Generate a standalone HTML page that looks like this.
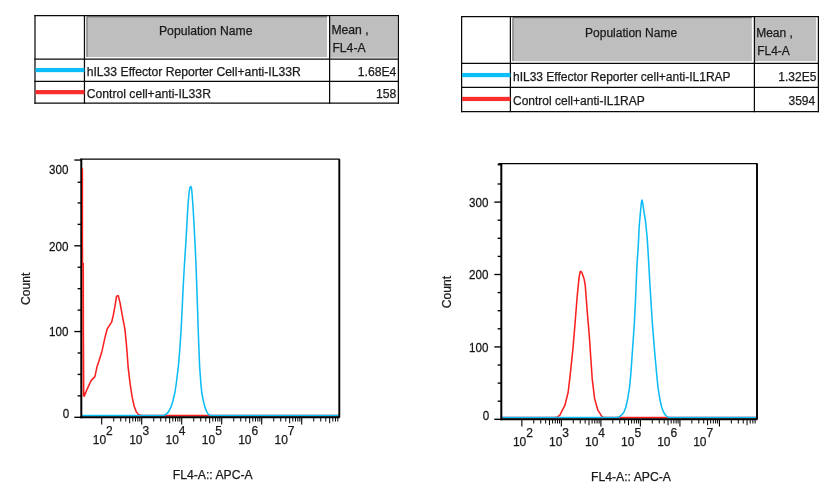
<!DOCTYPE html>
<html><head><meta charset="utf-8"><title>Histograms</title>
<style>html,body{margin:0;padding:0;background:#fff;overflow:hidden}svg{display:block}</style></head>
<body>
<svg width="832" height="500" viewBox="0 0 832 500">
<rect width="832" height="500" fill="#fff"/>
<rect x="86.65" y="16.599999999999998" width="240.45000000000005" height="40.45" fill="#bebebe"/>
<path d="M86.95,56.85 V16.80 H327.00" fill="none" stroke="#4a4a4a" stroke-width="0.8"/>
<path d="M330.70,57.35 V16.70" fill="none" stroke="#666" stroke-width="0.6"/>
<rect x="330.5" y="16.599999999999998" width="66.99999999999996" height="41.050000000000004" fill="#bebebe"/>
<line x1="35" y1="15.1" x2="35" y2="103.8" stroke="#080808" stroke-width="1.25"/>
<line x1="84.45" y1="15.1" x2="84.45" y2="103.8" stroke="#080808" stroke-width="1.25"/>
<line x1="329.6" y1="15.1" x2="329.6" y2="103.8" stroke="#080808" stroke-width="1.25"/>
<line x1="398.4" y1="15.1" x2="398.4" y2="103.8" stroke="#080808" stroke-width="1.25"/>
<line x1="34.4" y1="15.7" x2="399.0" y2="15.7" stroke="#080808" stroke-width="1.3"/>
<line x1="34.4" y1="59.15" x2="399.0" y2="59.15" stroke="#080808" stroke-width="1.3"/>
<line x1="34.4" y1="81.35" x2="399.0" y2="81.35" stroke="#080808" stroke-width="1.3"/>
<line x1="34.4" y1="103.2" x2="399.0" y2="103.2" stroke="#080808" stroke-width="1.3"/>
<rect x="35.5" y="67.95" width="48.95" height="4.2" fill="#0bbdf8"/>
<rect x="35.5" y="90.05" width="48.95" height="4.2" fill="#fb2d2d"/>
<text x="205.725" y="34.5" text-anchor="middle" font-family="Liberation Sans, Arial, sans-serif" stroke="#1a1a1a" stroke-width="0.25" font-size="12.2" fill="#1a1a1a">Population Name</text>
<text x="331.40000000000003" y="34.099999999999994" font-family="Liberation Sans, Arial, sans-serif" stroke="#1a1a1a" stroke-width="0.25" font-size="12.2" fill="#1a1a1a">Mean ,</text>
<text x="332.40000000000003" y="52.3" font-family="Liberation Sans, Arial, sans-serif" stroke="#1a1a1a" stroke-width="0.25" font-size="12.2" fill="#1a1a1a">FL4-A</text>
<text x="86.65" y="75.85" font-family="Liberation Sans, Arial, sans-serif" stroke="#1a1a1a" stroke-width="0.25" font-size="12.2" fill="#1a1a1a">hIL33 Effector Reporter Cell+anti-IL33R</text>
<text x="86.65" y="97.85" font-family="Liberation Sans, Arial, sans-serif" stroke="#1a1a1a" stroke-width="0.25" font-size="12.2" fill="#1a1a1a">Control cell+anti-IL33R</text>
<text x="396.4" y="75.85" text-anchor="end" font-family="Liberation Sans, Arial, sans-serif" stroke="#1a1a1a" stroke-width="0.25" font-size="12.2" fill="#1a1a1a">1.68E4</text>
<text x="396.4" y="97.85" text-anchor="end" font-family="Liberation Sans, Arial, sans-serif" stroke="#1a1a1a" stroke-width="0.25" font-size="12.2" fill="#1a1a1a">158</text>
<rect x="512.6" y="17.5" width="239.3" height="43.75" fill="#bebebe"/>
<path d="M512.90,61.05 V17.70 H751.80" fill="none" stroke="#4a4a4a" stroke-width="0.8"/>
<path d="M755.50,61.55 V17.60" fill="none" stroke="#666" stroke-width="0.6"/>
<rect x="755.3" y="17.5" width="60.900000000000006" height="43.65" fill="#bebebe"/>
<line x1="461.6" y1="16.0" x2="461.6" y2="112.19999999999999" stroke="#080808" stroke-width="1.25"/>
<line x1="510.4" y1="16.0" x2="510.4" y2="112.19999999999999" stroke="#080808" stroke-width="1.25"/>
<line x1="754.4" y1="16.0" x2="754.4" y2="112.19999999999999" stroke="#080808" stroke-width="1.25"/>
<line x1="818.4" y1="16.0" x2="818.4" y2="112.19999999999999" stroke="#080808" stroke-width="1.25"/>
<line x1="461.0" y1="16.6" x2="819.0" y2="16.6" stroke="#080808" stroke-width="1.3"/>
<line x1="461.0" y1="63.35" x2="819.0" y2="63.35" stroke="#080808" stroke-width="1.3"/>
<line x1="461.0" y1="87.35" x2="819.0" y2="87.35" stroke="#080808" stroke-width="1.3"/>
<line x1="461.0" y1="111.6" x2="819.0" y2="111.6" stroke="#080808" stroke-width="1.3"/>
<rect x="462.1" y="72.95" width="48.299999999999955" height="4.2" fill="#0bbdf8"/>
<rect x="462.1" y="96.85" width="48.299999999999955" height="4.2" fill="#fb2d2d"/>
<text x="631.1" y="36.900000000000006" text-anchor="middle" font-family="Liberation Sans, Arial, sans-serif" stroke="#1a1a1a" stroke-width="0.25" font-size="12.0" fill="#1a1a1a">Population Name</text>
<text x="756.1999999999999" y="36.6" font-family="Liberation Sans, Arial, sans-serif" stroke="#1a1a1a" stroke-width="0.25" font-size="12.0" fill="#1a1a1a">Mean ,</text>
<text x="757.1999999999999" y="55.1" font-family="Liberation Sans, Arial, sans-serif" stroke="#1a1a1a" stroke-width="0.25" font-size="12.0" fill="#1a1a1a">FL4-A</text>
<text x="513.0" y="81.25" font-family="Liberation Sans, Arial, sans-serif" stroke="#1a1a1a" stroke-width="0.25" font-size="12.0" fill="#1a1a1a">hIL33 Effector Reporter cell+anti-IL1RAP</text>
<text x="513.0" y="105.44999999999999" font-family="Liberation Sans, Arial, sans-serif" stroke="#1a1a1a" stroke-width="0.25" font-size="12.0" fill="#1a1a1a">Control cell+anti-IL1RAP</text>
<text x="816.4" y="81.25" text-anchor="end" font-family="Liberation Sans, Arial, sans-serif" stroke="#1a1a1a" stroke-width="0.25" font-size="12.0" fill="#1a1a1a">1.32E5</text>
<text x="815.1999999999999" y="105.44999999999999" text-anchor="end" font-family="Liberation Sans, Arial, sans-serif" stroke="#1a1a1a" stroke-width="0.25" font-size="12.0" fill="#1a1a1a">3594</text>
<polyline points="83.70,392.00 84.10,396.50 86.50,390.60 90.00,382.90 91.40,380.10 94.90,376.60 97.00,366.80 99.10,360.50 101.90,351.40 105.30,336.20 107.10,329.20 111.60,322.20 113.30,315.20 115.10,305.40 116.50,296.30 118.30,295.60 120.00,302.60 122.50,316.60 124.90,329.20 126.30,343.20 127.50,358.00 128.10,366.80 129.90,382.20 132.00,396.20 134.10,406.00 136.20,411.60 138.30,414.40 141.50,415.60 339.00,415.60" fill="none" stroke="#fa2020" stroke-width="1.55" stroke-linejoin="round"/>
<polyline points="82.00,415.60 163.00,415.60 165.80,414.60 168.50,411.90 170.80,407.40 172.60,402.00 174.80,393.00 176.20,384.00 178.40,366.00 179.90,348.00 181.10,330.00 182.10,310.00 183.00,290.00 184.40,265.00 185.60,247.00 186.80,226.00 187.80,208.00 188.90,194.00 189.80,188.00 190.70,186.30 191.50,188.00 192.10,194.00 193.10,208.00 194.10,226.00 195.20,247.00 196.00,265.00 196.90,290.00 197.60,310.00 198.20,330.00 198.90,348.00 199.60,366.00 200.90,384.00 201.80,393.00 203.60,402.00 205.00,407.40 206.80,411.90 208.60,414.60 211.00,415.60 339.00,415.60" fill="none" stroke="#0cbcf6" stroke-width="1.55" stroke-linejoin="round"/>
<line x1="81.3" y1="158.65" x2="81.3" y2="418.2" stroke="#000" stroke-width="2"/>
<line x1="80.3" y1="417.2" x2="339.8" y2="417.2" stroke="#000" stroke-width="2"/>
<line x1="80.3" y1="159.15" x2="339.8" y2="159.15" stroke="#000" stroke-width="1.4"/>
<line x1="339.3" y1="159.15" x2="339.3" y2="417.2" stroke="#000" stroke-width="1.9"/>
<polyline points="82.50,168.20 82.60,266.00" fill="none" stroke="#fa2020" stroke-width="1.3" stroke-linejoin="round"/>
<polyline points="83.15,263.00 83.25,330.00 83.60,396.00" fill="none" stroke="#fa2020" stroke-width="1.8" stroke-linejoin="round"/>
<line x1="74.3" y1="417.3" x2="81.3" y2="417.3" stroke="#000" stroke-width="1.35"/>
<text transform="translate(69.30,418.20) scale(0.945,1.06)" text-anchor="end" font-family="Liberation Sans, Arial, sans-serif" stroke="#1a1a1a" stroke-width="0.25" font-size="12.3" fill="#111">0</text>
<line x1="77.6" y1="395.8625" x2="81.3" y2="395.8625" stroke="#000" stroke-width="1.35"/>
<line x1="77.6" y1="374.425" x2="81.3" y2="374.425" stroke="#000" stroke-width="1.35"/>
<line x1="77.6" y1="352.9875" x2="81.3" y2="352.9875" stroke="#000" stroke-width="1.35"/>
<line x1="74.3" y1="331.55" x2="81.3" y2="331.55" stroke="#000" stroke-width="1.35"/>
<text transform="translate(68.40,336.45) scale(0.945,1.06)" text-anchor="end" font-family="Liberation Sans, Arial, sans-serif" stroke="#1a1a1a" stroke-width="0.25" font-size="12.3" fill="#111">100</text>
<line x1="77.6" y1="310.1125" x2="81.3" y2="310.1125" stroke="#000" stroke-width="1.35"/>
<line x1="77.6" y1="288.675" x2="81.3" y2="288.675" stroke="#000" stroke-width="1.35"/>
<line x1="77.6" y1="267.2375" x2="81.3" y2="267.2375" stroke="#000" stroke-width="1.35"/>
<line x1="74.3" y1="245.8" x2="81.3" y2="245.8" stroke="#000" stroke-width="1.35"/>
<text transform="translate(68.40,250.70) scale(0.945,1.06)" text-anchor="end" font-family="Liberation Sans, Arial, sans-serif" stroke="#1a1a1a" stroke-width="0.25" font-size="12.3" fill="#111">200</text>
<line x1="77.6" y1="224.3625" x2="81.3" y2="224.3625" stroke="#000" stroke-width="1.35"/>
<line x1="77.6" y1="202.925" x2="81.3" y2="202.925" stroke="#000" stroke-width="1.35"/>
<line x1="77.6" y1="182.25925" x2="81.3" y2="182.25925" stroke="#000" stroke-width="1.35"/>
<line x1="74.3" y1="160.05" x2="81.3" y2="160.05" stroke="#000" stroke-width="1.35"/>
<text transform="translate(68.40,173.95) scale(0.945,1.06)" text-anchor="end" font-family="Liberation Sans, Arial, sans-serif" stroke="#1a1a1a" stroke-width="0.25" font-size="12.3" fill="#111">300</text>
<line x1="101.7" y1="417.2" x2="101.7" y2="424.59999999999997" stroke="#000" stroke-width="1.1"/>
<line x1="113.74" y1="417.2" x2="113.74" y2="421.5" stroke="#000" stroke-width="1.0"/>
<line x1="120.78" y1="417.2" x2="120.78" y2="421.5" stroke="#000" stroke-width="1.0"/>
<line x1="125.78" y1="417.2" x2="125.78" y2="421.5" stroke="#000" stroke-width="1.0"/>
<line x1="129.66" y1="417.2" x2="129.66" y2="423.2" stroke="#000" stroke-width="1.0"/>
<line x1="132.83" y1="417.2" x2="132.83" y2="421.5" stroke="#000" stroke-width="1.0"/>
<line x1="135.50" y1="417.2" x2="135.50" y2="421.5" stroke="#000" stroke-width="1.0"/>
<line x1="137.82" y1="417.2" x2="137.82" y2="421.5" stroke="#000" stroke-width="1.0"/>
<line x1="139.87" y1="417.2" x2="139.87" y2="421.5" stroke="#000" stroke-width="1.0"/>
<text x="92.80" y="444.09999999999997" font-family="Liberation Sans, Arial, sans-serif" stroke="#1a1a1a" stroke-width="0.25" font-size="12" fill="#1a1a1a">10</text>
<text x="106.10" y="434.8" font-family="Liberation Sans, Arial, sans-serif" stroke="#1a1a1a" stroke-width="0.25" font-size="12" fill="#1a1a1a">2</text>
<line x1="141.7" y1="417.2" x2="141.7" y2="424.59999999999997" stroke="#000" stroke-width="1.1"/>
<line x1="153.74" y1="417.2" x2="153.74" y2="421.5" stroke="#000" stroke-width="1.0"/>
<line x1="160.78" y1="417.2" x2="160.78" y2="421.5" stroke="#000" stroke-width="1.0"/>
<line x1="165.78" y1="417.2" x2="165.78" y2="421.5" stroke="#000" stroke-width="1.0"/>
<line x1="169.66" y1="417.2" x2="169.66" y2="423.2" stroke="#000" stroke-width="1.0"/>
<line x1="172.83" y1="417.2" x2="172.83" y2="421.5" stroke="#000" stroke-width="1.0"/>
<line x1="175.50" y1="417.2" x2="175.50" y2="421.5" stroke="#000" stroke-width="1.0"/>
<line x1="177.82" y1="417.2" x2="177.82" y2="421.5" stroke="#000" stroke-width="1.0"/>
<line x1="179.87" y1="417.2" x2="179.87" y2="421.5" stroke="#000" stroke-width="1.0"/>
<text x="129.15" y="444.09999999999997" font-family="Liberation Sans, Arial, sans-serif" stroke="#1a1a1a" stroke-width="0.25" font-size="12" fill="#1a1a1a">10</text>
<text x="142.45" y="434.8" font-family="Liberation Sans, Arial, sans-serif" stroke="#1a1a1a" stroke-width="0.25" font-size="12" fill="#1a1a1a">3</text>
<line x1="181.7" y1="417.2" x2="181.7" y2="424.59999999999997" stroke="#000" stroke-width="1.1"/>
<line x1="193.74" y1="417.2" x2="193.74" y2="421.5" stroke="#000" stroke-width="1.0"/>
<line x1="200.78" y1="417.2" x2="200.78" y2="421.5" stroke="#000" stroke-width="1.0"/>
<line x1="205.78" y1="417.2" x2="205.78" y2="421.5" stroke="#000" stroke-width="1.0"/>
<line x1="209.66" y1="417.2" x2="209.66" y2="423.2" stroke="#000" stroke-width="1.0"/>
<line x1="212.83" y1="417.2" x2="212.83" y2="421.5" stroke="#000" stroke-width="1.0"/>
<line x1="215.50" y1="417.2" x2="215.50" y2="421.5" stroke="#000" stroke-width="1.0"/>
<line x1="217.82" y1="417.2" x2="217.82" y2="421.5" stroke="#000" stroke-width="1.0"/>
<line x1="219.87" y1="417.2" x2="219.87" y2="421.5" stroke="#000" stroke-width="1.0"/>
<text x="165.50" y="444.09999999999997" font-family="Liberation Sans, Arial, sans-serif" stroke="#1a1a1a" stroke-width="0.25" font-size="12" fill="#1a1a1a">10</text>
<text x="178.80" y="434.8" font-family="Liberation Sans, Arial, sans-serif" stroke="#1a1a1a" stroke-width="0.25" font-size="12" fill="#1a1a1a">4</text>
<line x1="221.7" y1="417.2" x2="221.7" y2="424.59999999999997" stroke="#000" stroke-width="1.1"/>
<line x1="233.74" y1="417.2" x2="233.74" y2="421.5" stroke="#000" stroke-width="1.0"/>
<line x1="240.78" y1="417.2" x2="240.78" y2="421.5" stroke="#000" stroke-width="1.0"/>
<line x1="245.78" y1="417.2" x2="245.78" y2="421.5" stroke="#000" stroke-width="1.0"/>
<line x1="249.66" y1="417.2" x2="249.66" y2="423.2" stroke="#000" stroke-width="1.0"/>
<line x1="252.83" y1="417.2" x2="252.83" y2="421.5" stroke="#000" stroke-width="1.0"/>
<line x1="255.50" y1="417.2" x2="255.50" y2="421.5" stroke="#000" stroke-width="1.0"/>
<line x1="257.82" y1="417.2" x2="257.82" y2="421.5" stroke="#000" stroke-width="1.0"/>
<line x1="259.87" y1="417.2" x2="259.87" y2="421.5" stroke="#000" stroke-width="1.0"/>
<text x="201.85" y="444.09999999999997" font-family="Liberation Sans, Arial, sans-serif" stroke="#1a1a1a" stroke-width="0.25" font-size="12" fill="#1a1a1a">10</text>
<text x="215.15" y="434.8" font-family="Liberation Sans, Arial, sans-serif" stroke="#1a1a1a" stroke-width="0.25" font-size="12" fill="#1a1a1a">5</text>
<line x1="261.7" y1="417.2" x2="261.7" y2="424.59999999999997" stroke="#000" stroke-width="1.1"/>
<line x1="273.74" y1="417.2" x2="273.74" y2="421.5" stroke="#000" stroke-width="1.0"/>
<line x1="280.78" y1="417.2" x2="280.78" y2="421.5" stroke="#000" stroke-width="1.0"/>
<line x1="285.78" y1="417.2" x2="285.78" y2="421.5" stroke="#000" stroke-width="1.0"/>
<line x1="289.66" y1="417.2" x2="289.66" y2="423.2" stroke="#000" stroke-width="1.0"/>
<line x1="292.83" y1="417.2" x2="292.83" y2="421.5" stroke="#000" stroke-width="1.0"/>
<line x1="295.50" y1="417.2" x2="295.50" y2="421.5" stroke="#000" stroke-width="1.0"/>
<line x1="297.82" y1="417.2" x2="297.82" y2="421.5" stroke="#000" stroke-width="1.0"/>
<line x1="299.87" y1="417.2" x2="299.87" y2="421.5" stroke="#000" stroke-width="1.0"/>
<text x="238.20" y="444.09999999999997" font-family="Liberation Sans, Arial, sans-serif" stroke="#1a1a1a" stroke-width="0.25" font-size="12" fill="#1a1a1a">10</text>
<text x="251.50" y="434.8" font-family="Liberation Sans, Arial, sans-serif" stroke="#1a1a1a" stroke-width="0.25" font-size="12" fill="#1a1a1a">6</text>
<line x1="301.7" y1="417.2" x2="301.7" y2="424.59999999999997" stroke="#000" stroke-width="1.1"/>
<line x1="313.74" y1="417.2" x2="313.74" y2="421.5" stroke="#000" stroke-width="1.0"/>
<line x1="320.78" y1="417.2" x2="320.78" y2="421.5" stroke="#000" stroke-width="1.0"/>
<line x1="325.78" y1="417.2" x2="325.78" y2="421.5" stroke="#000" stroke-width="1.0"/>
<line x1="329.66" y1="417.2" x2="329.66" y2="423.2" stroke="#000" stroke-width="1.0"/>
<line x1="332.83" y1="417.2" x2="332.83" y2="421.5" stroke="#000" stroke-width="1.0"/>
<line x1="335.50" y1="417.2" x2="335.50" y2="421.5" stroke="#000" stroke-width="1.0"/>
<line x1="337.82" y1="417.2" x2="337.82" y2="421.5" stroke="#000" stroke-width="1.0"/>
<text x="274.55" y="444.09999999999997" font-family="Liberation Sans, Arial, sans-serif" stroke="#1a1a1a" stroke-width="0.25" font-size="12" fill="#1a1a1a">10</text>
<text x="287.85" y="434.8" font-family="Liberation Sans, Arial, sans-serif" stroke="#1a1a1a" stroke-width="0.25" font-size="12" fill="#1a1a1a">7</text>
<text x="212.7" y="479.0" text-anchor="middle" font-family="Liberation Sans, Arial, sans-serif" stroke="#1a1a1a" stroke-width="0.25" font-size="12.2" fill="#1a1a1a">FL4-A:: APC-A</text>
<text transform="translate(30.1,288.8) rotate(-90)" text-anchor="middle" font-family="Liberation Sans, Arial, sans-serif" stroke="#1a1a1a" stroke-width="0.25" font-size="12.1" fill="#1a1a1a">Count</text>
<polyline points="502.00,417.60 554.50,417.60 557.50,416.90 559.90,415.10 564.90,405.20 568.20,392.00 570.50,372.20 572.90,349.10 575.10,322.70 577.20,296.30 579.00,278.20 580.20,271.60 581.00,271.40 582.20,273.40 583.90,278.20 585.20,285.00 586.20,298.00 587.20,311.20 588.40,325.00 589.60,340.00 590.40,352.40 592.20,378.80 594.60,398.60 597.90,410.20 602.10,416.80 604.00,417.60 756.50,417.60" fill="none" stroke="#fa2020" stroke-width="1.55" stroke-linejoin="round"/>
<polyline points="502.00,417.60 616.50,417.60 618.75,417.00 621.25,415.50 623.75,412.50 625.75,407.50 627.50,400.00 629.50,387.50 630.75,375.00 632.50,350.00 634.25,325.00 635.50,300.00 636.90,266.70 638.30,245.10 639.20,226.00 640.70,209.20 641.40,202.50 641.90,200.10 642.60,202.00 643.60,209.20 645.50,221.20 647.20,238.00 648.40,257.10 649.60,278.70 650.80,299.00 652.50,325.00 654.50,350.00 656.75,375.00 658.00,387.50 660.00,400.00 661.75,407.50 663.75,412.50 665.75,415.50 667.50,417.00 670.00,417.60 756.50,417.60" fill="none" stroke="#0cbcf6" stroke-width="1.55" stroke-linejoin="round"/>
<line x1="501.3" y1="163.1" x2="501.3" y2="420.2" stroke="#000" stroke-width="2"/>
<line x1="500.3" y1="419.2" x2="757.5" y2="419.2" stroke="#000" stroke-width="2"/>
<line x1="498.3" y1="163.6" x2="757.5" y2="163.6" stroke="#000" stroke-width="1.4"/>
<line x1="757.0" y1="163.6" x2="757.0" y2="419.2" stroke="#000" stroke-width="1.9"/>
<line x1="494.3" y1="419.3" x2="501.3" y2="419.3" stroke="#000" stroke-width="1.35"/>
<text transform="translate(489.30,420.20) scale(0.945,1.06)" text-anchor="end" font-family="Liberation Sans, Arial, sans-serif" stroke="#1a1a1a" stroke-width="0.25" font-size="12.3" fill="#111">0</text>
<line x1="497.6" y1="401.2" x2="501.3" y2="401.2" stroke="#000" stroke-width="1.35"/>
<line x1="497.6" y1="383.1" x2="501.3" y2="383.1" stroke="#000" stroke-width="1.35"/>
<line x1="497.6" y1="365.0" x2="501.3" y2="365.0" stroke="#000" stroke-width="1.35"/>
<line x1="494.3" y1="346.9" x2="501.3" y2="346.9" stroke="#000" stroke-width="1.35"/>
<text transform="translate(488.40,351.80) scale(0.945,1.06)" text-anchor="end" font-family="Liberation Sans, Arial, sans-serif" stroke="#1a1a1a" stroke-width="0.25" font-size="12.3" fill="#111">100</text>
<line x1="497.6" y1="328.8" x2="501.3" y2="328.8" stroke="#000" stroke-width="1.35"/>
<line x1="497.6" y1="310.70000000000005" x2="501.3" y2="310.70000000000005" stroke="#000" stroke-width="1.35"/>
<line x1="497.6" y1="292.6" x2="501.3" y2="292.6" stroke="#000" stroke-width="1.35"/>
<line x1="494.3" y1="274.5" x2="501.3" y2="274.5" stroke="#000" stroke-width="1.35"/>
<text transform="translate(488.40,279.40) scale(0.945,1.06)" text-anchor="end" font-family="Liberation Sans, Arial, sans-serif" stroke="#1a1a1a" stroke-width="0.25" font-size="12.3" fill="#111">200</text>
<line x1="497.6" y1="256.4" x2="501.3" y2="256.4" stroke="#000" stroke-width="1.35"/>
<line x1="497.6" y1="238.3" x2="501.3" y2="238.3" stroke="#000" stroke-width="1.35"/>
<line x1="497.6" y1="220.20000000000002" x2="501.3" y2="220.20000000000002" stroke="#000" stroke-width="1.35"/>
<line x1="494.3" y1="202.10000000000002" x2="501.3" y2="202.10000000000002" stroke="#000" stroke-width="1.35"/>
<text transform="translate(488.40,207.00) scale(0.945,1.06)" text-anchor="end" font-family="Liberation Sans, Arial, sans-serif" stroke="#1a1a1a" stroke-width="0.25" font-size="12.3" fill="#111">300</text>
<line x1="497.6" y1="183.99999999999997" x2="501.3" y2="183.99999999999997" stroke="#000" stroke-width="1.35"/>
<line x1="497.6" y1="164.74159999999998" x2="501.3" y2="164.74159999999998" stroke="#000" stroke-width="1.35"/>
<line x1="521.85" y1="419.2" x2="521.85" y2="426.59999999999997" stroke="#000" stroke-width="1.1"/>
<line x1="533.75" y1="419.2" x2="533.75" y2="423.5" stroke="#000" stroke-width="1.0"/>
<line x1="540.71" y1="419.2" x2="540.71" y2="423.5" stroke="#000" stroke-width="1.0"/>
<line x1="545.64" y1="419.2" x2="545.64" y2="423.5" stroke="#000" stroke-width="1.0"/>
<line x1="549.47" y1="419.2" x2="549.47" y2="425.2" stroke="#000" stroke-width="1.0"/>
<line x1="552.60" y1="419.2" x2="552.60" y2="423.5" stroke="#000" stroke-width="1.0"/>
<line x1="555.25" y1="419.2" x2="555.25" y2="423.5" stroke="#000" stroke-width="1.0"/>
<line x1="557.54" y1="419.2" x2="557.54" y2="423.5" stroke="#000" stroke-width="1.0"/>
<line x1="559.56" y1="419.2" x2="559.56" y2="423.5" stroke="#000" stroke-width="1.0"/>
<text x="512.95" y="446.09999999999997" font-family="Liberation Sans, Arial, sans-serif" stroke="#1a1a1a" stroke-width="0.25" font-size="12" fill="#1a1a1a">10</text>
<text x="526.25" y="436.8" font-family="Liberation Sans, Arial, sans-serif" stroke="#1a1a1a" stroke-width="0.25" font-size="12" fill="#1a1a1a">2</text>
<line x1="561.37" y1="419.2" x2="561.37" y2="426.59999999999997" stroke="#000" stroke-width="1.1"/>
<line x1="573.27" y1="419.2" x2="573.27" y2="423.5" stroke="#000" stroke-width="1.0"/>
<line x1="580.23" y1="419.2" x2="580.23" y2="423.5" stroke="#000" stroke-width="1.0"/>
<line x1="585.16" y1="419.2" x2="585.16" y2="423.5" stroke="#000" stroke-width="1.0"/>
<line x1="588.99" y1="419.2" x2="588.99" y2="425.2" stroke="#000" stroke-width="1.0"/>
<line x1="592.12" y1="419.2" x2="592.12" y2="423.5" stroke="#000" stroke-width="1.0"/>
<line x1="594.77" y1="419.2" x2="594.77" y2="423.5" stroke="#000" stroke-width="1.0"/>
<line x1="597.06" y1="419.2" x2="597.06" y2="423.5" stroke="#000" stroke-width="1.0"/>
<line x1="599.08" y1="419.2" x2="599.08" y2="423.5" stroke="#000" stroke-width="1.0"/>
<text x="549.00" y="446.09999999999997" font-family="Liberation Sans, Arial, sans-serif" stroke="#1a1a1a" stroke-width="0.25" font-size="12" fill="#1a1a1a">10</text>
<text x="562.30" y="436.8" font-family="Liberation Sans, Arial, sans-serif" stroke="#1a1a1a" stroke-width="0.25" font-size="12" fill="#1a1a1a">3</text>
<line x1="600.89" y1="419.2" x2="600.89" y2="426.59999999999997" stroke="#000" stroke-width="1.1"/>
<line x1="612.79" y1="419.2" x2="612.79" y2="423.5" stroke="#000" stroke-width="1.0"/>
<line x1="619.75" y1="419.2" x2="619.75" y2="423.5" stroke="#000" stroke-width="1.0"/>
<line x1="624.68" y1="419.2" x2="624.68" y2="423.5" stroke="#000" stroke-width="1.0"/>
<line x1="628.51" y1="419.2" x2="628.51" y2="425.2" stroke="#000" stroke-width="1.0"/>
<line x1="631.64" y1="419.2" x2="631.64" y2="423.5" stroke="#000" stroke-width="1.0"/>
<line x1="634.29" y1="419.2" x2="634.29" y2="423.5" stroke="#000" stroke-width="1.0"/>
<line x1="636.58" y1="419.2" x2="636.58" y2="423.5" stroke="#000" stroke-width="1.0"/>
<line x1="638.60" y1="419.2" x2="638.60" y2="423.5" stroke="#000" stroke-width="1.0"/>
<text x="585.05" y="446.09999999999997" font-family="Liberation Sans, Arial, sans-serif" stroke="#1a1a1a" stroke-width="0.25" font-size="12" fill="#1a1a1a">10</text>
<text x="598.35" y="436.8" font-family="Liberation Sans, Arial, sans-serif" stroke="#1a1a1a" stroke-width="0.25" font-size="12" fill="#1a1a1a">4</text>
<line x1="640.4100000000001" y1="419.2" x2="640.4100000000001" y2="426.59999999999997" stroke="#000" stroke-width="1.1"/>
<line x1="652.31" y1="419.2" x2="652.31" y2="423.5" stroke="#000" stroke-width="1.0"/>
<line x1="659.27" y1="419.2" x2="659.27" y2="423.5" stroke="#000" stroke-width="1.0"/>
<line x1="664.20" y1="419.2" x2="664.20" y2="423.5" stroke="#000" stroke-width="1.0"/>
<line x1="668.03" y1="419.2" x2="668.03" y2="425.2" stroke="#000" stroke-width="1.0"/>
<line x1="671.16" y1="419.2" x2="671.16" y2="423.5" stroke="#000" stroke-width="1.0"/>
<line x1="673.81" y1="419.2" x2="673.81" y2="423.5" stroke="#000" stroke-width="1.0"/>
<line x1="676.10" y1="419.2" x2="676.10" y2="423.5" stroke="#000" stroke-width="1.0"/>
<line x1="678.12" y1="419.2" x2="678.12" y2="423.5" stroke="#000" stroke-width="1.0"/>
<text x="621.10" y="446.09999999999997" font-family="Liberation Sans, Arial, sans-serif" stroke="#1a1a1a" stroke-width="0.25" font-size="12" fill="#1a1a1a">10</text>
<text x="634.40" y="436.8" font-family="Liberation Sans, Arial, sans-serif" stroke="#1a1a1a" stroke-width="0.25" font-size="12" fill="#1a1a1a">5</text>
<line x1="679.9300000000001" y1="419.2" x2="679.9300000000001" y2="426.59999999999997" stroke="#000" stroke-width="1.1"/>
<line x1="691.83" y1="419.2" x2="691.83" y2="423.5" stroke="#000" stroke-width="1.0"/>
<line x1="698.79" y1="419.2" x2="698.79" y2="423.5" stroke="#000" stroke-width="1.0"/>
<line x1="703.72" y1="419.2" x2="703.72" y2="423.5" stroke="#000" stroke-width="1.0"/>
<line x1="707.55" y1="419.2" x2="707.55" y2="425.2" stroke="#000" stroke-width="1.0"/>
<line x1="710.68" y1="419.2" x2="710.68" y2="423.5" stroke="#000" stroke-width="1.0"/>
<line x1="713.33" y1="419.2" x2="713.33" y2="423.5" stroke="#000" stroke-width="1.0"/>
<line x1="715.62" y1="419.2" x2="715.62" y2="423.5" stroke="#000" stroke-width="1.0"/>
<line x1="717.64" y1="419.2" x2="717.64" y2="423.5" stroke="#000" stroke-width="1.0"/>
<text x="657.15" y="446.09999999999997" font-family="Liberation Sans, Arial, sans-serif" stroke="#1a1a1a" stroke-width="0.25" font-size="12" fill="#1a1a1a">10</text>
<text x="670.45" y="436.8" font-family="Liberation Sans, Arial, sans-serif" stroke="#1a1a1a" stroke-width="0.25" font-size="12" fill="#1a1a1a">6</text>
<line x1="719.45" y1="419.2" x2="719.45" y2="426.59999999999997" stroke="#000" stroke-width="1.1"/>
<line x1="731.35" y1="419.2" x2="731.35" y2="423.5" stroke="#000" stroke-width="1.0"/>
<line x1="738.31" y1="419.2" x2="738.31" y2="423.5" stroke="#000" stroke-width="1.0"/>
<line x1="743.24" y1="419.2" x2="743.24" y2="423.5" stroke="#000" stroke-width="1.0"/>
<line x1="747.07" y1="419.2" x2="747.07" y2="425.2" stroke="#000" stroke-width="1.0"/>
<line x1="750.20" y1="419.2" x2="750.20" y2="423.5" stroke="#000" stroke-width="1.0"/>
<line x1="752.85" y1="419.2" x2="752.85" y2="423.5" stroke="#000" stroke-width="1.0"/>
<line x1="755.14" y1="419.2" x2="755.14" y2="423.5" stroke="#000" stroke-width="1.0"/>
<text x="693.20" y="446.09999999999997" font-family="Liberation Sans, Arial, sans-serif" stroke="#1a1a1a" stroke-width="0.25" font-size="12" fill="#1a1a1a">10</text>
<text x="706.50" y="436.8" font-family="Liberation Sans, Arial, sans-serif" stroke="#1a1a1a" stroke-width="0.25" font-size="12" fill="#1a1a1a">7</text>
<text x="631" y="481.0" text-anchor="middle" font-family="Liberation Sans, Arial, sans-serif" stroke="#1a1a1a" stroke-width="0.25" font-size="12.2" fill="#1a1a1a">FL4-A:: APC-A</text>
<text transform="translate(450.8,292) rotate(-90)" text-anchor="middle" font-family="Liberation Sans, Arial, sans-serif" stroke="#1a1a1a" stroke-width="0.25" font-size="12.1" fill="#1a1a1a">Count</text>
</svg>
</body></html>
